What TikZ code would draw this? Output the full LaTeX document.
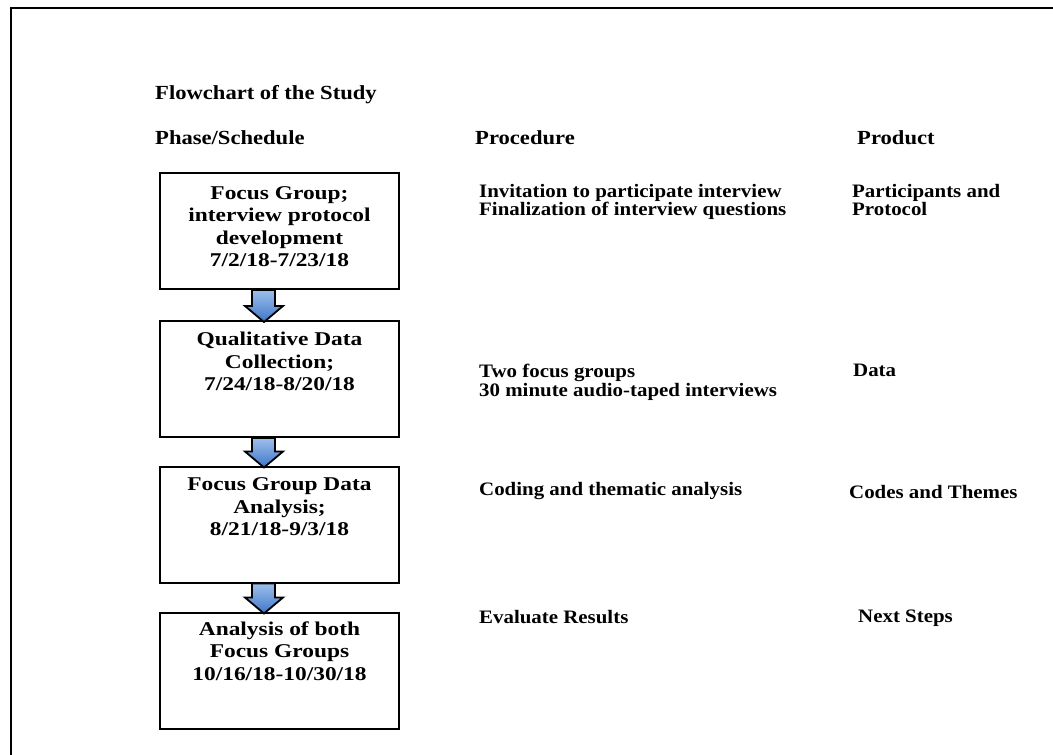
\documentclass[tikz,border=0pt]{standalone}
\usepackage{fontspec}
\setmainfont{Liberation Serif}
\newfontfamily\boxfont[FakeStretch=1.2]{Liberation Serif}
\newfontfamily\cellfont[FakeStretch=1.1]{Liberation Serif}
\newfontfamily\headfont[FakeStretch=1.13]{Liberation Serif}
\usetikzlibrary{calc}
\definecolor{arrtop}{HTML}{9CC0EC}
\definecolor{arrbot}{HTML}{3F76C8}
\tikzset{
  box/.style={draw, line width=2pt, minimum width=239pt, minimum height=116pt, inner sep=0pt},
  boxtext/.style={anchor=north, align=center, inner sep=0pt, font=\boxfont\bfseries\fontsize{19.5}{22.5}\selectfont},
  headtext/.style={anchor=base west, inner sep=0pt, font=\headfont\bfseries\fontsize{20}{22}\selectfont},
  cell/.style={anchor=north west, align=left, inner sep=0pt, font=\cellfont\bfseries\fontsize{19}{18.5}\selectfont},
  blockarrow/.style={draw=black, line width=1.8pt, top color=arrtop, bottom color=arrbot, line join=miter},
}
\newcommand\flowarrow[2]{%
  \path[blockarrow] ($(#1.south)+(-27.5,0)$) -- ($(#1.south)+(-4.5,0)$)
    -- ($(#2.north)+(-4.5,-14)$) -- ($(#2.north)+(3.5,-14)$)
    -- ($(#2.north)+(-15.5,2)$)
    -- ($(#2.north)+(-34.5,-14)$) -- ($(#2.north)+(-27.5,-14)$) -- cycle;}
\begin{document}
\begin{tikzpicture}[x=1pt,y=-1pt]
\useasboundingbox (0,0) rectangle (1053,755);
\clip (0,0) rectangle (1053,755);
\fill[white] (0,0) rectangle (1053,755);
% outer frame
\draw[line width=2pt] (11,780) -- (11,8) -- (1080,8);
% headings
\node[headtext] (title) at (155,99.5) {Flowchart of the Study};
\node[headtext] (hphase) at (155,144.5) {Phase/Schedule};
\node[headtext] (hproc) at (475,144.5) {Procedure};
\node[headtext] (hprod) at (857,144.5) {Product};
% boxes
\node[box] (b1) at (279.5,231) {};
\node[box] (b2) at (279.5,379) {};
\node[box] (b3) at (279.5,524.5) {};
\node[box] (b4) at (279.5,670.5) {};
\node[boxtext] (t1) at ($(b1.north)+(0,14)$) {Focus Group;\\interview protocol\\development\\7/2/18-7/23/18};
\node[boxtext] (t2) at ($(b2.north)+(0,12)$) {Qualitative Data\\Collection;\\7/24/18-8/20/18};
\node[boxtext] (t3) at ($(b3.north)+(0,12)$) {Focus Group Data\\Analysis;\\8/21/18-9/3/18};
\node[boxtext] (t4) at ($(b4.north)+(0,10)$) {Analysis of both\\Focus Groups\\10/16/18-10/30/18};
% arrows
\flowarrow{b1}{b2}
\flowarrow{b2}{b3}
\flowarrow{b3}{b4}
% procedure column
\node[cell] (p1) at (479,184) {Invitation to participate interview\\Finalization of interview questions};
\node[cell] (p2) at (479,364) {Two focus groups\\30 minute audio-taped interviews};
\node[cell] (p3) at (479,482) {Coding and thematic analysis};
\node[cell] (p4) at (479,610) {Evaluate Results};
% product column
\node[cell] (r1) at (852,184) {Participants and\\Protocol};
\node[cell] (r2) at (853,364) {Data};
\node[cell] (r3) at (849,485) {Codes and Themes};
\node[cell] (r4) at (858,610) {Next Steps};
\end{tikzpicture}
\end{document}
